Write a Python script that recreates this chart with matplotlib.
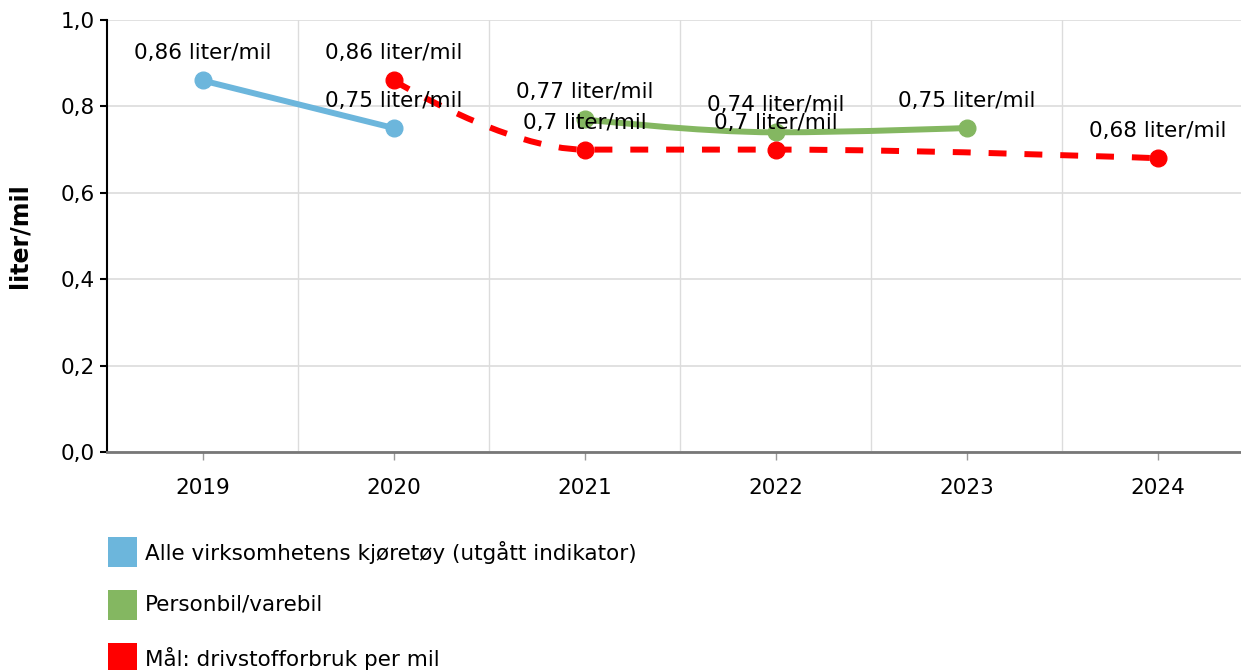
import matplotlib
matplotlib.use("Agg")
import matplotlib.pyplot as plt
from matplotlib.path import Path
from matplotlib.patches import PathPatch, Rectangle

years = ["2019", "2020", "2021", "2022", "2023", "2024"]

alle_idx = [0, 1]
alle_vals = [0.86, 0.75]

person_idx = [2, 3, 4]
person_vals = [0.77, 0.74, 0.75]

maal_idx = [1, 2, 3, 5]
maal_vals = [0.86, 0.70, 0.70, 0.68]

BLUE = "#6cb6dc"
GREEN = "#84b761"
RED = "#ff0000"
GRID = "#dcdcdc"
FS = 15.5

fig = plt.figure(figsize=(12.41, 6.70), dpi=100)
ax = fig.add_axes([107 / 1241, 218 / 670, 1146 / 1241, 432 / 670])
ax.set_xlim(-0.5, 5.5)
ax.set_ylim(0, 1.0)


def spline_path(xs, ys, smoothing=1.5):
    # Bezier path through the points, highcharts-like spline
    pts = list(zip(xs, ys))
    n = len(pts)
    left, right = [], []
    for i in range(n):
        x, y = pts[i]
        if i == 0 or i == n - 1:
            left.append((x, y))
            right.append((x, y))
            continue
        lx, ly = pts[i - 1]
        nx, ny = pts[i + 1]
        d = smoothing + 1
        lcx, lcy = (smoothing * x + lx) / d, (smoothing * y + ly) / d
        rcx, rcy = (smoothing * x + nx) / d, (smoothing * y + ny) / d
        corr = ((rcy - lcy) * (rcx - x)) / (rcx - lcx) + y - rcy
        lcy += corr
        rcy += corr
        if lcy > ly and lcy > y:
            lcy = max(ly, y)
            rcy = 2 * y - lcy
        elif lcy < ly and lcy < y:
            lcy = min(ly, y)
            rcy = 2 * y - lcy
        if rcy > ny and rcy > y:
            rcy = max(ny, y)
            lcy = 2 * y - rcy
        elif rcy < ny and rcy < y:
            rcy = min(ny, y)
            lcy = 2 * y - rcy
        left.append((lcx, lcy))
        right.append((rcx, rcy))
    verts = [pts[0]]
    codes = [Path.MOVETO]
    for i in range(1, n):
        verts += [right[i - 1], left[i], pts[i]]
        codes += [Path.CURVE4] * 3
    return Path(verts, codes)


series = [
    (alle_idx, alle_vals, BLUE, "solid"),
    (person_idx, person_vals, GREEN, "solid"),
    (maal_idx, maal_vals, RED, (0, (3, 3))),
]

for xs, ys, col, ls in series:
    patch = PathPatch(spline_path(xs, ys), facecolor="none", edgecolor=col,
                      lw=4.3, linestyle=ls, capstyle="butt", zorder=3)
    ax.add_patch(patch)
    ax.plot(xs, ys, "o", color=col, markersize=12, zorder=4, clip_on=False)
    for x, y in zip(xs, ys):
        lab = f"{y:g}".replace(".", ",") + " liter/mil"
        ax.annotate(lab, (x, y), xytext=(0, 19.5), textcoords="offset points",
                    ha="center", va="center", fontsize=FS, color="black", zorder=5)

# grid
for g in [0.5, 1.5, 2.5, 3.5, 4.5]:
    ax.axvline(g, color=GRID, lw=1, zorder=0)
ax.set_yticks([0, 0.2, 0.4, 0.6, 0.8, 1.0])
ax.set_yticklabels(["0,0", "0,2", "0,4", "0,6", "0,8", "1,0"])
ax.yaxis.grid(True, color=GRID, lw=1.2, zorder=0)
ax.set_axisbelow(True)

ax.set_xticks(range(len(years)))
ax.set_xticklabels(years)
ax.tick_params(axis="x", length=6, color="#999999", width=1, pad=13, labelsize=FS)
ax.tick_params(axis="y", length=5, color="black", width=1.5, pad=4, labelsize=FS)

for s in ["top", "right"]:
    ax.spines[s].set_visible(False)
ax.spines["left"].set_linewidth(1.5)
ax.spines["bottom"].set_color("#777777")
ax.spines["bottom"].set_linewidth(2)

ax.set_ylabel("liter/mil", fontsize=17, fontweight="bold", va="center")
ax.yaxis.set_label_coords(-87 / 1146, 0.5)

# legend
legend_items = [
    ("Alle virksomhetens kjøretøy (utgått indikator)", BLUE),
    ("Personbil/varebil", GREEN),
    ("Mål: drivstofforbruk per mil", RED),
]
for i, (txt, col) in enumerate(legend_items):
    yc = 552 + i * 53
    fig.patches.append(Rectangle((108 / 1241, (670 - yc - 15) / 670), 29 / 1241, 30 / 670,
                                 transform=fig.transFigure, facecolor=col, edgecolor="none"))
    fig.text(145 / 1241, (670 - yc) / 670, txt, ha="left", va="center", fontsize=FS)

fig.savefig("out.png", dpi=100)
